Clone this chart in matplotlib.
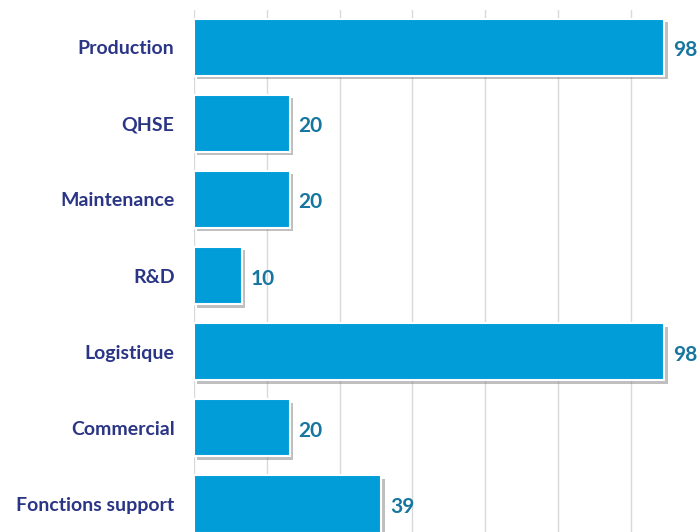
import matplotlib
matplotlib.use("Agg")
import matplotlib.pyplot as plt
from matplotlib import patheffects as pe
from matplotlib.ticker import MultipleLocator

categories = ["Production", "QHSE", "Maintenance", "R&D", "Logistique", "Commercial", "Fonctions support"]
values = [98, 20, 20, 10, 98, 20, 39]

BAR = "#009DD9"
NAVY = "#2B3585"
TEAL = "#1676A0"
GRID = "#D9D9D9"

fig = plt.figure(figsize=(6.98, 5.32), dpi=100)
ax = fig.add_axes([194 / 698, 0.0, 1 - 194 / 698, 1 - 10 / 532])

y = list(range(len(categories)))
bars = ax.barh(y, values, height=0.75, color=BAR, edgecolor="white", linewidth=1.5, zorder=3)
for b in bars:
    b.set_path_effects([pe.SimplePatchShadow(offset=(2.5, -2.5), shadow_rgbFace="#808080", alpha=0.5),
                        pe.Normal()])

for yi, v in zip(y, values):
    ax.text(v + 1.8, yi + 0.04, str(v), va="center", ha="left", color=TEAL,
            fontsize=15, fontweight="bold", family="Lato", zorder=4)

ax.set_xlim(0, (698 - 194) / 4.8)
ax.set_ylim(6.368, -0.487)
ax.xaxis.set_major_locator(MultipleLocator(15.17))
ax.grid(axis="x", color=GRID, linewidth=1, zorder=0)
ax.set_axisbelow(True)
ax.tick_params(axis="x", length=0, labelbottom=False)
ax.tick_params(axis="y", length=0, pad=14)
ax.set_yticks(y)
ax.set_yticklabels(categories, color=NAVY, fontsize=14, fontweight="bold", family="Lato")
for s in ax.spines.values():
    s.set_visible(False)

fig.savefig("out.png", dpi=100)
